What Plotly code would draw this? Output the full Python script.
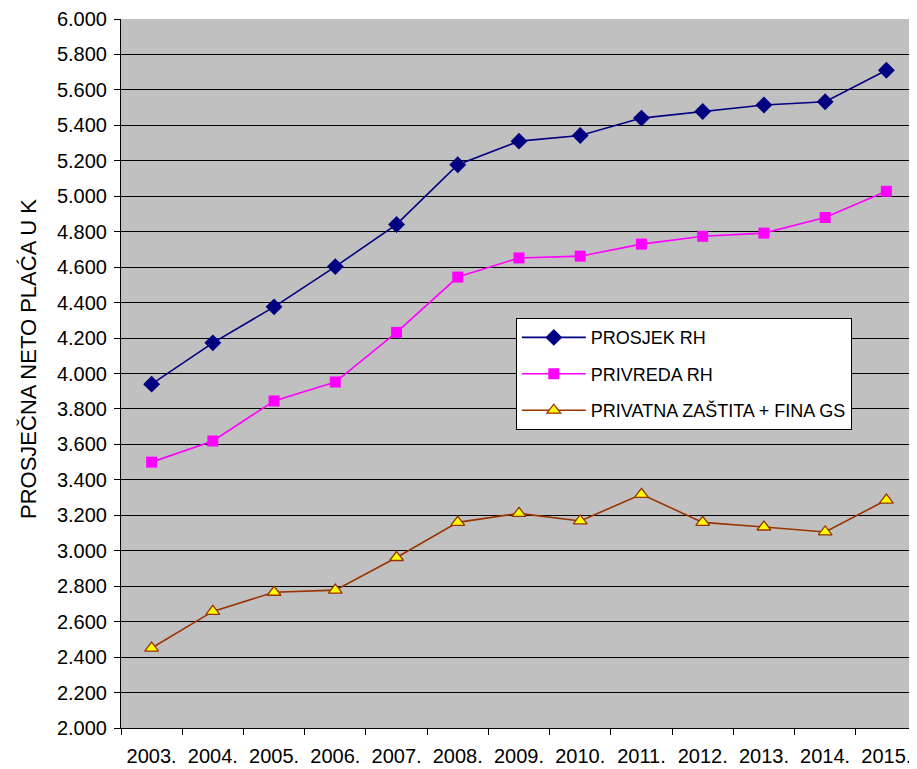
import plotly.graph_objects as go

years = ["2003.", "2004.", "2005.", "2006.", "2007.", "2008.", "2009.",
         "2010.", "2011.", "2012.", "2013.", "2014.", "2015."]
prosjek_rh = [3940, 4173, 4376, 4603, 4841, 5178, 5311, 5343, 5441, 5478, 5515, 5533, 5711]
privreda_rh = [3500, 3619, 3845, 3952, 4232, 4544, 4652, 4662, 4730, 4774, 4792, 4880, 5028]
privatna_zastita = [2451, 2658, 2766, 2778, 2962, 3160, 3211, 3168, 3318, 3160, 3134, 3106, 3286]
y_ticks = [2000, 2200, 2400, 2600, 2800, 3000, 3200, 3400, 3600, 3800,
           4000, 4200, 4400, 4600, 4800, 5000, 5200, 5400, 5600, 5800, 6000]
y_ticktext = ["2.000", "2.200", "2.400", "2.600", "2.800", "3.000", "3.200", "3.400",
              "3.600", "3.800", "4.000", "4.200", "4.400", "4.600", "4.800", "5.000",
              "5.200", "5.400", "5.600", "5.800", "6.000"]
y_title = "PROSJEČNA NETO PLAĆA U K"

fig = go.Figure()
fig.add_trace(go.Scatter(
    x=years, y=prosjek_rh, name="PROSJEK RH", mode="lines+markers",
    line=dict(color="#000080", width=1.6),
    marker=dict(symbol="diamond", size=13, color="#000080", line=dict(width=0)),
    legendgroup="a"))
fig.add_trace(go.Scatter(
    x=years, y=privreda_rh, name="PRIVREDA RH", mode="lines+markers",
    line=dict(color="#FF00FF", width=1.6),
    marker=dict(symbol="square", size=11, color="#FF00FF", line=dict(width=0)),
    legendgroup="b"))
fig.add_trace(go.Scatter(
    x=years, y=privatna_zastita, name="PRIVATNA ZAŠTITA + FINA GS", mode="lines+markers",
    line=dict(color="#993300", width=1.6),
    marker=dict(symbol="triangle-up", size=12, color="#FFFF00",
                line=dict(color="#993300", width=1.3)),
    legendgroup="c"))

fig.update_layout(
    width=909, height=761,
    margin=dict(l=113, r=0, t=11, b=41),
    paper_bgcolor="white",
    plot_bgcolor="#C0C0C0",
    font=dict(family="Liberation Sans, Arial, sans-serif", size=20, color="black"),
    showlegend=True,
    legend=dict(
        x=0.496, y=0.578, xanchor="left", yanchor="top",
        bgcolor="white", bordercolor="black", borderwidth=1,
        font=dict(size=18, color="black"),
        tracegroupgap=10, traceorder="grouped",
        itemwidth=64,
    ),
    xaxis=dict(
        type="category", showgrid=False, tickson="boundaries",
        ticks="outside", ticklen=6, tickcolor="black",
        showline=True, linecolor="black", linewidth=1,
        tickfont=dict(size=20), range=[-0.5, 12.5], automargin=False,
        ticklabelstandoff=10,
    ),
    yaxis=dict(
        range=[2000, 6000], tickvals=y_ticks, ticktext=y_ticktext,
        showgrid=True, gridcolor="black", gridwidth=1,
        ticks="outside", ticklen=6, tickcolor="black",
        showline=True, linecolor="black", linewidth=1,
        tickfont=dict(size=20), zeroline=False, automargin=False,
        ticklabelstandoff=3,
    ),
    annotations=[dict(
        text=y_title, xref="paper", yref="paper",
        x=(28 - 121) / 796, y=(728 - 521) / 709, xanchor="center", yanchor="bottom",
        textangle=-90, showarrow=False, font=dict(size=22, color="black"),
    )],
)

fig.write_html("out.html")
